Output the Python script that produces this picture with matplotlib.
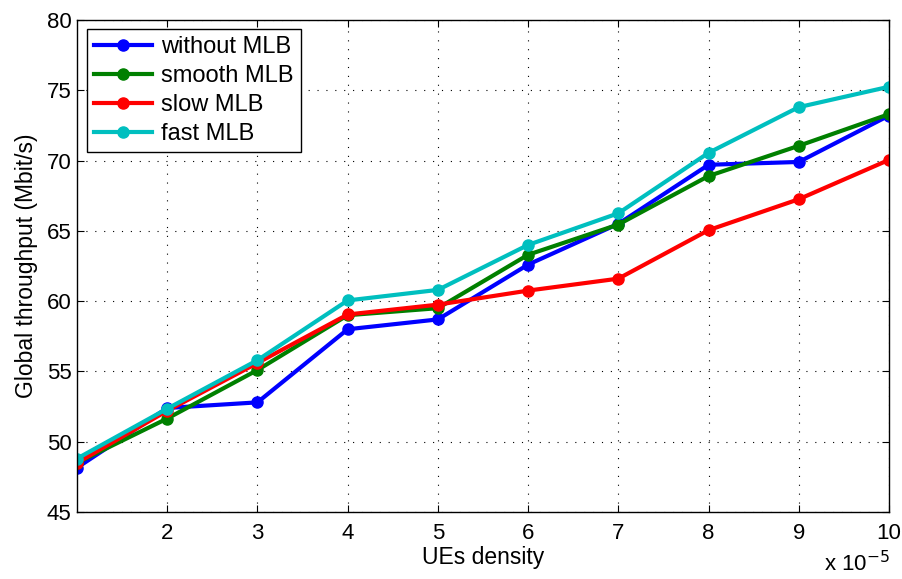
import matplotlib
matplotlib.use("Agg")
import matplotlib.pyplot as plt
import numpy as np

plt.rcParams["font.family"] = ["Liberation Sans", "DejaVu Sans"]

density = [1, 2, 3, 4, 5, 6, 7, 8, 9, 10]
without_mlb = [48.15, 52.4, 52.8, 58.0, 58.7, 62.6, 65.5, 69.7, 69.9, 73.2]
smooth_mlb = [48.5, 51.65, 55.1, 59.0, 59.5, 63.3, 65.45, 68.9, 71.05, 73.3]
slow_mlb = [48.5, 52.2, 55.6, 59.05, 59.75, 60.75, 61.6, 65.05, 67.25, 70.05]
fast_mlb = [48.8, 52.35, 55.8, 60.05, 60.8, 64.0, 66.25, 70.55, 73.8, 75.25]

series = [
    ("without MLB", without_mlb, "#0000ff"),
    ("smooth MLB", smooth_mlb, "#008000"),
    ("slow MLB", slow_mlb, "#ff0000"),
    ("fast MLB", fast_mlb, "#00bfbf"),
]

fig = plt.figure(figsize=(9.03, 5.79), dpi=100)
ax = fig.add_axes([0.0853, 0.1157, 0.8992, 0.8498])

for label, vals, color in series:
    ax.plot(density, vals, "-o", color=color, lw=3, ms=8, label=label)

ax.set_xlim(1, 10)
ax.set_ylim(45, 80)
ax.set_xticks([2, 3, 4, 5, 6, 7, 8, 9, 10])
ax.set_yticks(np.arange(45, 81, 5))
ax.tick_params(direction="in", top=True, right=True, labelsize=16, length=5)
ax.tick_params(axis="x", pad=8)
ax.tick_params(axis="y", pad=4)
ax.grid(True, linestyle=(0, (1, 7)), color="black", lw=0.8)
for s in ax.spines.values():
    s.set_linewidth(1.0)

ax.set_xlabel("UEs density", fontsize=16.5, labelpad=1)
ax.set_ylabel("Global throughput (Mbit/s)", fontsize=16.5, labelpad=6)
fig.text(0.985, 0.005, r"x 10$^{-5}$", ha="right", va="bottom", fontsize=16)

leg = ax.legend(loc="upper left", fontsize=17, fancybox=False, edgecolor="black",
                framealpha=1, borderpad=0.3, labelspacing=0.3, handlelength=2.45,
                handletextpad=0.4, borderaxespad=0, bbox_to_anchor=(0.012, 0.982))
leg.get_frame().set_linewidth(1.0)

fig.savefig("out.png", dpi=100)
